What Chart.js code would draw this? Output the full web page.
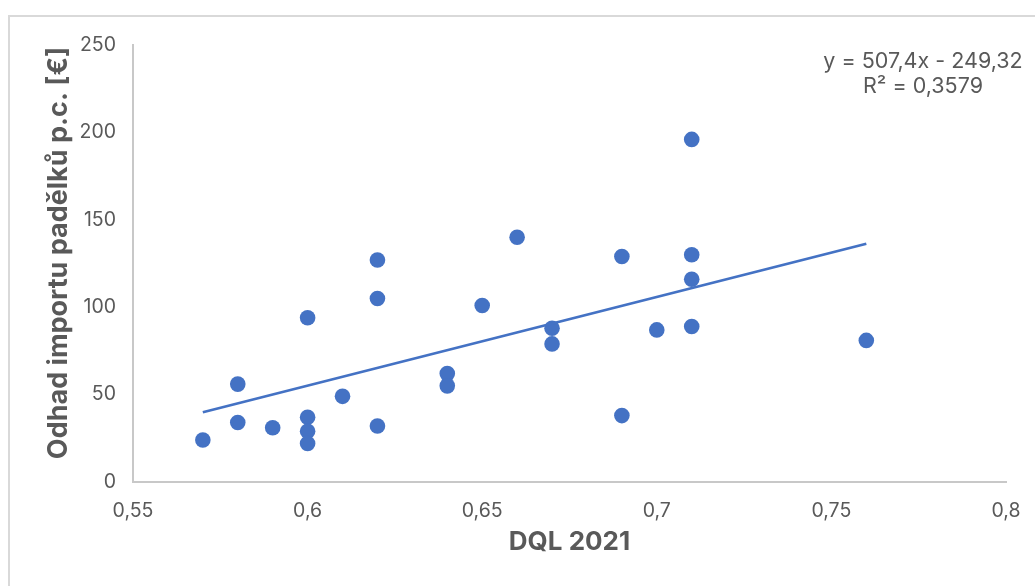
<!DOCTYPE html>
<html>
<head>
<meta charset="utf-8">
<script src="https://cdn.jsdelivr.net/npm/chart.js@4"></script>
<style>
  html, body { margin: 0; padding: 0; background: #fff; overflow: hidden; }
  #frame { position: absolute; left: 8px; top: 15px; width: 1100px; height: 700px; border: 2px solid #d9d9d9; }
  #wrap { position: absolute; left: 0; top: 0; width: 1035px; height: 586px; }
</style>
</head>
<body>
<div id="frame"></div>
<div id="wrap"><canvas id="chart" width="1035" height="586"></canvas></div>
<script>
const dql = [0.57, 0.58, 0.58, 0.59, 0.6, 0.6, 0.6, 0.6, 0.61, 0.62, 0.62, 0.62, 0.64, 0.64,
  0.65, 0.66, 0.67, 0.67, 0.69, 0.69, 0.7, 0.71, 0.71, 0.71, 0.71, 0.76];
const importPc = [24, 56, 34, 31, 94, 37, 29, 22, 49, 127, 105, 32, 62, 55,
  101, 140, 88, 79, 129, 38, 87, 196, 130, 116, 89, 81];

// trendline from Excel label: y = 507,4x - 249,32
const slope = 507.4;
const intercept = -249.32;
const trendRange = [0.57, 0.76];
const equationLines = ['y = 507,4x - 249,32', 'R² = 0,3579'];
const yTitle = 'Odhad importu padělků p.c. [€]';

const textColor = '#595959';
const axisColor = '#c8c8c8';
const blue = '#4472c4';

const points = dql.map((x, i) => ({ x, y: importPc[i] }));
const trend = trendRange.map((x) => ({ x, y: slope * x + intercept }));

function formatComma(value) {
  return String(Math.round(value * 100) / 100).replace('.', ',');
}

// equation box + y title (Excel puts the title a bit above the plot centre)
const extraText = {
  id: 'extraText',
  afterDraw(chart) {
    const { ctx } = chart;
    ctx.save();
    ctx.font = '21.5px Inter';
    ctx.fillStyle = textColor;
    ctx.textAlign = 'center';
    ctx.textBaseline = 'middle';
    ctx.fillText(equationLines[0], 923, 62);
    ctx.fillText(equationLines[1], 923, 87);

    ctx.translate(59, 253);
    ctx.rotate(-Math.PI / 2);
    ctx.font = 'bold 27px Inter';
    ctx.fillText(yTitle, 0, 0);
    ctx.restore();
  },
};

new Chart(document.querySelector('#chart'), {
  type: 'scatter',
  data: {
    datasets: [
      {
        label: 'Trend',
        data: trend,
        showLine: true,
        borderColor: blue,
        borderWidth: 2.8,
        pointRadius: 0,
        fill: false,
      },
      {
        label: 'Odhad',
        data: points,
        backgroundColor: blue,
        borderWidth: 0,
        pointRadius: 7.8,
        pointHoverRadius: 7.8,
      },
    ],
  },
  options: {
    responsive: false,
    animation: false,
    layout: { padding: { left: 0, top: 45, right: 29, bottom: 0 } },
    plugins: {
      legend: { display: false },
      tooltip: { enabled: false },
    },
    scales: {
      x: {
        type: 'linear',
        min: 0.55,
        max: 0.8,
        afterFit(scale) { scale.height = 104; },
        grid: { display: false },
        border: { display: true, color: axisColor, width: 2 },
        ticks: {
          stepSize: 0.05,
          color: textColor,
          font: { family: 'Inter', size: 19.5 },
          padding: 9,
          callback: (value) => formatComma(value),
        },
        title: {
          display: true,
          text: 'DQL 2021',
          color: textColor,
          font: { family: 'Inter', size: 26, weight: 'bold' },
          padding: { top: 0, bottom: 28 },
        },
      },
      y: {
        min: 0,
        max: 250,
        afterFit(scale) { scale.width = 133; },
        grid: { display: false },
        border: { display: true, color: axisColor, width: 2 },
        ticks: {
          stepSize: 50,
          color: textColor,
          font: { family: 'Inter', size: 19.5 },
          padding: 9,
        },
      },
    },
  },
  plugins: [extraText],
});
</script>
</body>
</html>
